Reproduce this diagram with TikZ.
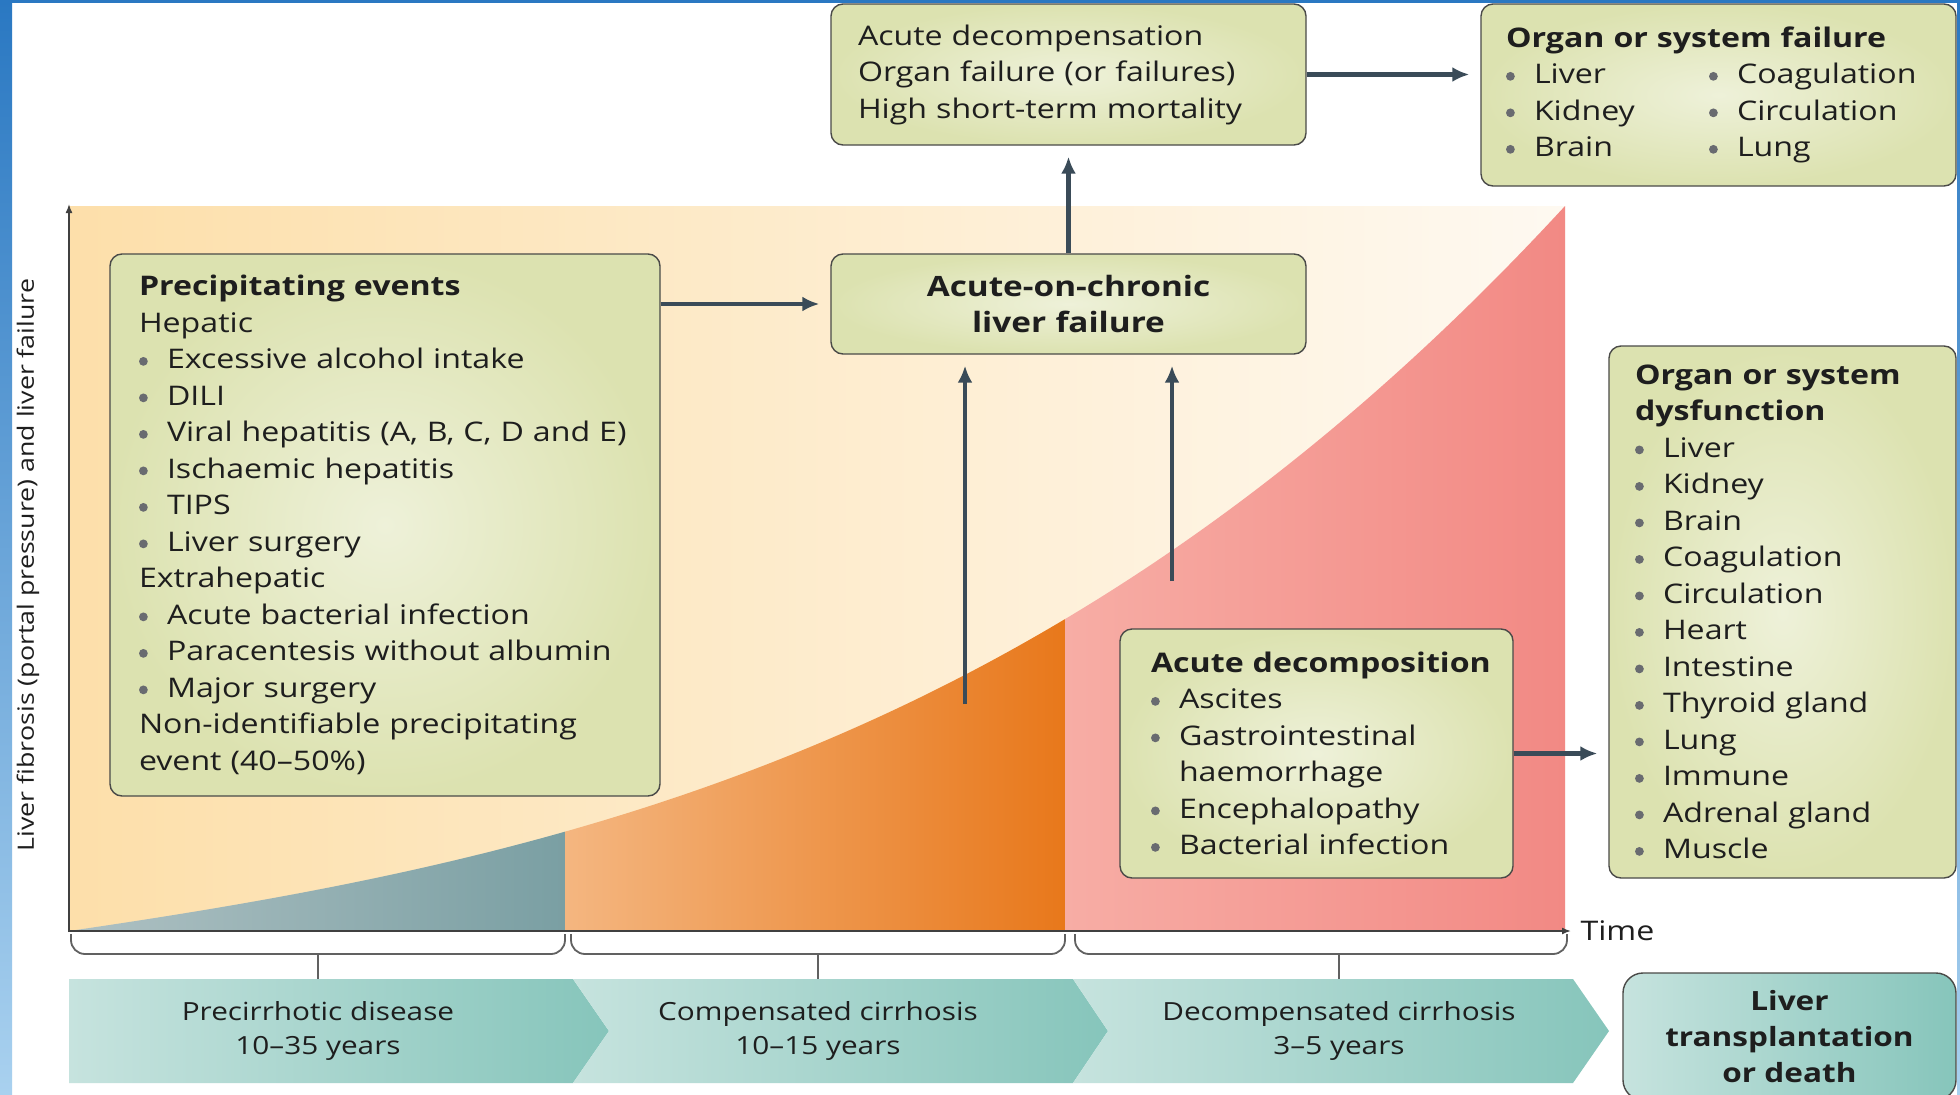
\documentclass[tikz,border=0pt]{standalone}
\usepackage{fontspec}
\setmainfont{Open Sans}[FakeStretch=1.19]
\usetikzlibrary{arrows.meta,positioning}
\definecolor{framedark}{HTML}{2A78C2}
\definecolor{framelight}{HTML}{A9D1EF}
\definecolor{chartbeige}{HTML}{FDDFAA}
\definecolor{chartmid}{HTML}{FDEBCB}
\definecolor{chartcream}{HTML}{FEF9F1}
\definecolor{precirlight}{HTML}{AFC1C3}
\definecolor{precirgrey}{HTML}{7A9FA3}
\definecolor{compolight}{HTML}{F4B680}
\definecolor{compodark}{HTML}{E8781B}
\definecolor{decomplight}{HTML}{F7ADA5}
\definecolor{decompdark}{HTML}{F28984}
\definecolor{boxinner}{HTML}{EEF1D9}
\definecolor{boxouter}{HTML}{DCE2B0}
\definecolor{boxedge}{HTML}{4A4A48}
\definecolor{flowink}{HTML}{3A4B58}
\definecolor{stagelight}{HTML}{C6E3DE}
\definecolor{stagedark}{HTML}{86C5BB}
\definecolor{dotgrey}{HTML}{696B70}
\definecolor{inkdark}{HTML}{1E1E1E}

\newcommand{\itm}{\makebox[28pt][l]{\tikz[baseline=-7.5pt]\fill[dotgrey] (4pt,0pt) circle (4.4pt);}}

\begin{document}
\begin{tikzpicture}[
        x=1pt,y=-1pt,>=Latex,
        flow/.style={-{Latex[length=17pt,width=15pt]},line width=4.5pt,
          draw=flowink,shorten >=11pt},
        axis/.style={-{Latex[length=9pt,width=7pt]},line width=1.6pt,draw=inkdark!85},
        brace/.style={line width=1.8pt,draw=black!62,rounded corners=14pt},
        infobox/.style={draw=boxedge,line width=1.4pt,rounded corners=12pt,
          inner color=boxinner,outer color=boxouter,align=left,inner sep=0pt,
          text=inkdark,font=\fontsize{27}{36.5}\selectfont},
        stage/.style={align=center,text=inkdark,font=\fontsize{25}{34}\selectfont}
      ]
        \useasboundingbox (0,0) rectangle (1960,1095);
        \fill[white] (0,0) rectangle (1960,1095);
        \shade[top color=framedark,bottom color=framelight] (0,0) rectangle (12,1095);
        \shade[top color=framedark,bottom color=framelight] (1957,0) rectangle (1960,1095);
        \fill[framedark] (0,0) rectangle (1960,3);

        % chart area
        \shade[left color=chartbeige,middle color=chartmid,right color=chartcream]
          (69,206) rectangle (1565,931);
        \begin{scope}
          \clip (69,931) .. controls (567.7,858.1) and (1066.3,747.2) .. (1565,206)
            -- (1565,931) -- cycle;
          \shade[left color=precirlight,right color=precirgrey] (69,200) rectangle (565,932);
          \shade[left color=compolight,right color=compodark] (565,200) rectangle (1065,932);
          \shade[left color=decomplight,right color=decompdark] (1065,200) rectangle (1565,932);
        \end{scope}
        \draw[axis] (69,932) -- (69,204);
        \draw[axis] (68,931) -- (1571,931);
        \node[anchor=west,text=inkdark,font=\fontsize{27}{30}\selectfont]
          (timelbl) at (1577,931) {Time};
        \node[rotate=90,text=inkdark,font=\fontsize{22.5}{26}\selectfont]
          (ylbl) at (28,565) {Liver fibrosis (portal pressure) and liver failure};

        % braces and stages
        \draw[brace] (71,934) -- (71,954) -- (565,954) -- (565,934);
        \draw[brace] (571,934) -- (571,954) -- (1065,954) -- (1065,934);
        \draw[brace] (1075,934) -- (1075,954) -- (1567,954) -- (1567,934);
        \draw[line width=1.6pt,black!62] (318,954) -- (318,979);
        \draw[line width=1.6pt,black!62] (818,954) -- (818,979);
        \draw[line width=1.6pt,black!62] (1339,954) -- (1339,979);
        \shade[left color=stagelight,right color=stagedark]
          (69,979) -- (573,979) -- (609,1031) -- (573,1083) -- (69,1083) -- cycle;
        \shade[left color=stagelight,right color=stagedark]
          (573,979) -- (1073,979) -- (1108,1031) -- (1073,1083) -- (573,1083) -- (609,1031) -- cycle;
        \shade[left color=stagelight,right color=stagedark]
          (1073,979) -- (1573,979) -- (1609,1031) -- (1573,1083) -- (1073,1083) -- (1108,1031) -- cycle;
        \node[stage] (precir) at (318,1031) {Precirrhotic disease\\10--35 years};
        \node[stage] (compen) at (818,1031) {Compensated cirrhosis\\10--15 years};
        \node[stage] (decomp) at (1339,1031) {Decompensated cirrhosis\\3--5 years};
        \node[draw=boxedge,line width=1.4pt,rounded corners=20pt,
          left color=stagelight,right color=stagedark,minimum width=333pt,minimum height=127pt,
          align=center,text=inkdark,font=\fontsize{26.5}{36}\selectfont\bfseries]
          (outcome) at (1789.5,1036.5) {Liver\\transplantation\\or death};

        % boxes
        \node[infobox,minimum width=550pt,minimum height=542pt,text width=492pt]
          (prec) at (385,525) {\textbf{Precipitating events}\\
          Hepatic\\
          \itm Excessive alcohol intake\\
          \itm DILI\\
          \itm Viral hepatitis (A, B, C, D and E)\\
          \itm Ischaemic hepatitis\\
          \itm TIPS\\
          \itm Liver surgery\\
          Extrahepatic\\
          \itm Acute bacterial infection\\
          \itm Paracentesis without albumin\\
          \itm Major surgery\\
          Non-identifiable precipitating\\
          event (40--50\%)};
        \node[infobox,minimum width=475pt,minimum height=100pt,text width=421pt,align=center,
          font=\fontsize{28}{36.5}\selectfont]
          (aclf) at (1068.5,304) {\textbf{Acute-on-chronic}\\\textbf{liver failure}};
        \node[infobox,minimum width=475pt,minimum height=141pt,text width=421pt]
          (accdec) at (1068.5,74.5) {Acute decompensation\\
          Organ failure (or failures)\\
          High short-term mortality};
        \node[infobox,minimum width=475pt,minimum height=182pt,text width=425pt]
          (failure) at (1718.5,95) {\textbf{Organ or system failure}\\
          \makebox[203pt][l]{\itm Liver}\itm Coagulation\\
          \makebox[203pt][l]{\itm Kidney}\itm Circulation\\
          \makebox[203pt][l]{\itm Brain}\itm Lung};
        \node[infobox,minimum width=393pt,minimum height=249pt,text width=331pt]
          (acudec) at (1316.5,753.5) {\mbox{\textbf{Acute decomposition}}\\
          \itm Ascites\\
          \itm Gastrointestinal\\
          \hspace*{28pt}haemorrhage\\
          \itm Encephalopathy\\
          \itm Bacterial infection};
        \node[infobox,minimum width=347pt,minimum height=532pt,text width=295pt]
          (dysf) at (1782.5,612) {\textbf{Organ or system}\\
          \textbf{dysfunction}\\
          \itm Liver\\
          \itm Kidney\\
          \itm Brain\\
          \itm Coagulation\\
          \itm Circulation\\
          \itm Heart\\
          \itm Intestine\\
          \itm Thyroid gland\\
          \itm Lung\\
          \itm Immune\\
          \itm Adrenal gland\\
          \itm Muscle};

        % arrows
        \coordinate (riseA) at (965,704);
        \coordinate (riseB) at (1172,581);
        \draw[flow] (prec.east |- aclf.west) -- (aclf.west);
        \draw[flow] (aclf.north) -- (accdec.south);
        \draw[flow] (accdec.east) -- (accdec.east -| failure.west);
        \draw[flow] (riseA) -- (riseA |- aclf.south);
        \draw[flow] (riseB) -- (riseB |- aclf.south);
        \draw[flow] (acudec.east) -- (acudec.east -| dysf.west);
      \end{tikzpicture}
\end{document}
